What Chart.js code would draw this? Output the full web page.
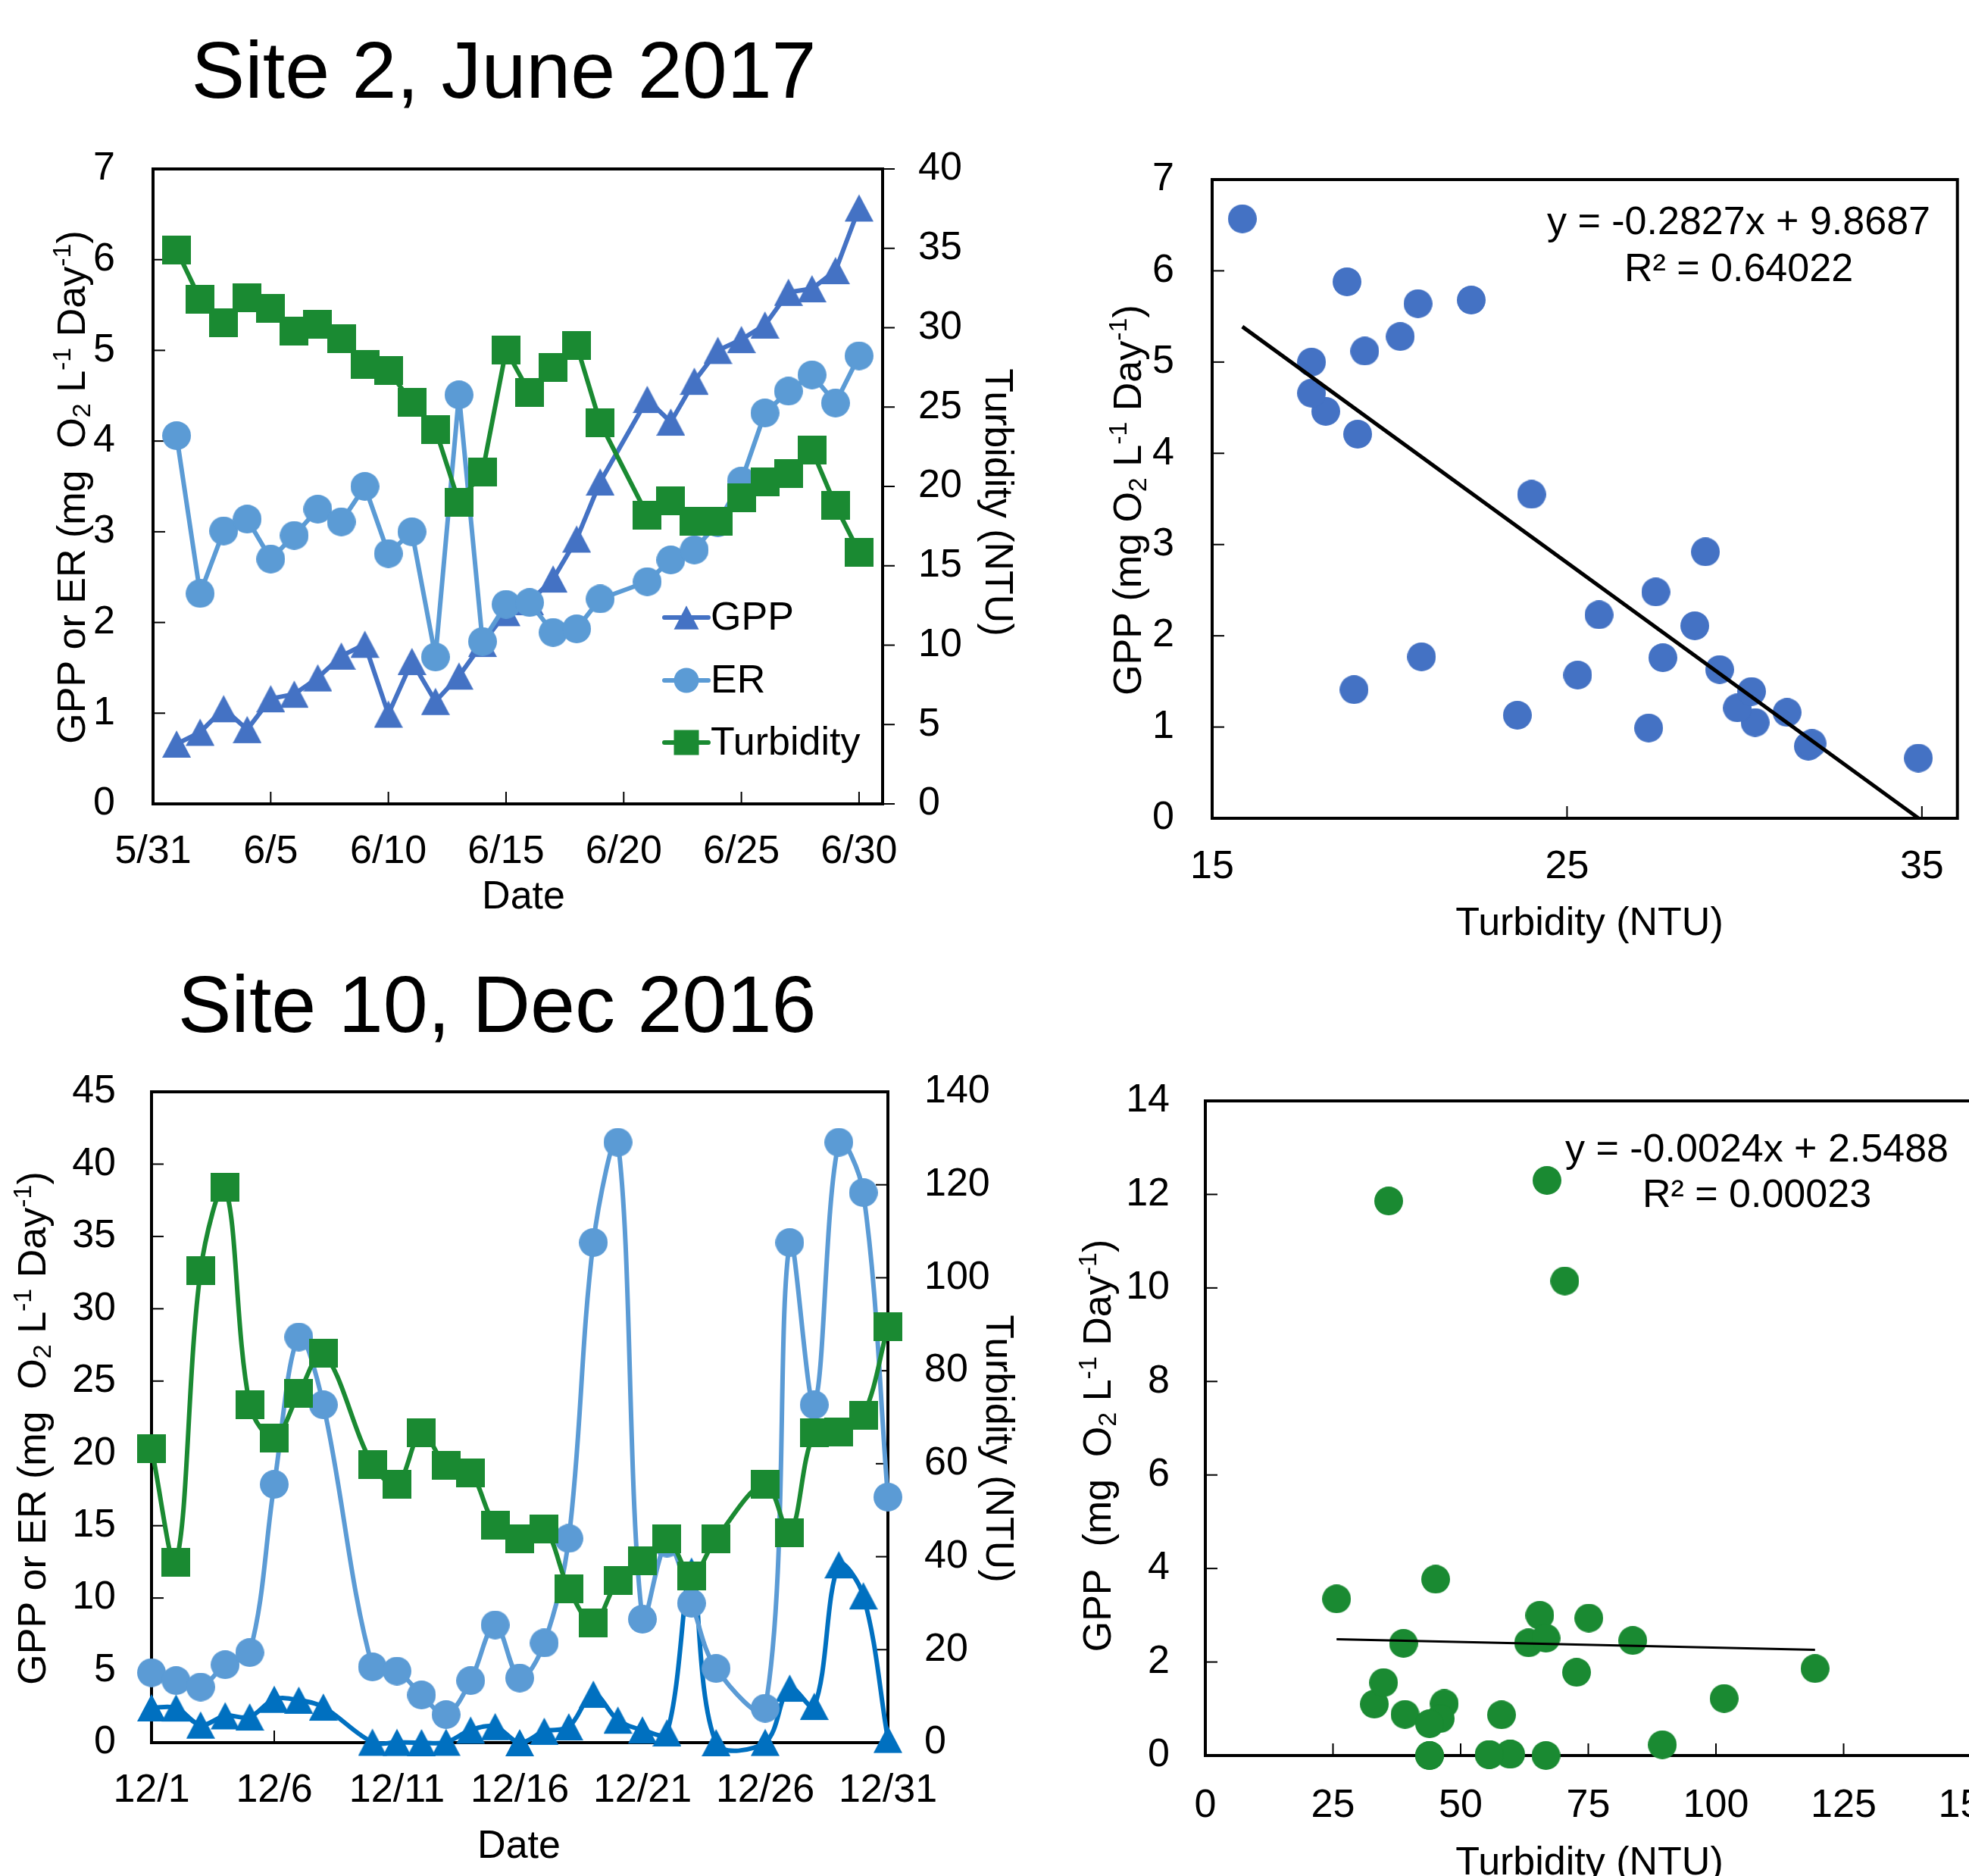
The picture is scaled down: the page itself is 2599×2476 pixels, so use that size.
<!DOCTYPE html>
<html>
<head>
<meta charset="utf-8">
<script src="https://cdn.jsdelivr.net/npm/chart.js@4.4.1/dist/chart.umd.min.js"></script>
<style>
html, body { margin: 0; padding: 0; background: #fff; overflow: hidden; width: 2599px; height: 2476px; position: relative; }
canvas { position: absolute; }
.site { position: absolute; font-family: 'Liberation Sans', Arial, sans-serif; font-size: 106px; line-height: 1; color: #000; white-space: nowrap; transform: translateX(-50%); }
</style>
</head>
<body>
<div class="site" style="left:665px; top:39px;">Site 2, June 2017</div>
<div class="site" style="left:656px; top:1272px;">Site 10, Dec 2016</div>
<script>
// Site 2, June 2017 (6/20 missing)
const dates2 = ['6/1','6/2','6/3','6/4','6/5','6/6','6/7','6/8','6/9','6/10','6/11','6/12','6/13','6/14','6/15',
  '6/16','6/17','6/18','6/19','6/21','6/22','6/23','6/24','6/25','6/26','6/27','6/28','6/29','6/30'];
const gpp2 = [0.66, 0.79, 1.05, 0.82, 1.16, 1.21, 1.39, 1.63, 1.76, 0.99, 1.57, 1.13, 1.41, 1.77, 2.11,
  2.23, 2.48, 2.92, 3.55, 4.46, 4.21, 4.66, 5.00, 5.12, 5.28, 5.64, 5.68, 5.88, 6.57];
const er2 = [4.06, 2.32, 3.01, 3.14, 2.70, 2.96, 3.25, 3.11, 3.50, 2.76, 3.00, 1.62, 4.51, 1.79, 2.20,
  2.22, 1.89, 1.93, 2.26, 2.45, 2.69, 2.80, 3.10, 3.56, 4.31, 4.55, 4.73, 4.42, 4.94];
const turb2 = [34.9, 31.8, 30.3, 31.9, 31.2, 29.8, 30.2, 29.3, 27.7, 27.3, 25.3, 23.6, 19.0, 20.9, 28.6,
  25.9, 27.5, 28.9, 24.0, 18.2, 19.1, 17.8, 17.8, 19.3, 20.3, 20.8, 22.3, 18.8, 15.85];
const xTicks2 = ['5/31','6/5','6/10','6/15','6/20','6/25','6/30'];
const trend2 = { slope: -0.2827, intercept: 9.8687, r2: '0.64022' };
const scatterTicks2 = ['15','25','35'];

// Site 10, Dec 2016 (12/9 and 12/25 missing)
const dates10 = ['12/1','12/2','12/3','12/4','12/5','12/6','12/7','12/8','12/10','12/11','12/12','12/13','12/14','12/15',
  '12/16','12/17','12/18','12/19','12/20','12/21','12/22','12/23','12/24','12/26','12/27','12/28','12/29','12/30','12/31'];
const gpp10 = [2.41, 2.40, 1.22, 1.86, 1.78, 3.00, 2.94, 2.46, 0.03, 0.02, 0.00, 0.03, 0.87, 1.11,
  0.00, 0.79, 1.10, 3.35, 1.56, 0.88, 0.68, 11.86, 0.00, 0.02, 3.77, 2.51, 12.30, 10.15, 0.23];
const er10 = [4.84, 4.29, 3.85, 5.39, 6.23, 17.86, 28.05, 23.36, 5.24, 4.95, 3.30, 1.94, 4.29, 8.14,
  4.47, 6.89, 14.12, 34.58, 41.51, 8.54, 13.8, 9.64, 5.13, 2.38, 34.58, 23.36, 41.51, 38.03, 16.98];
const turb10 = [63.3, 38.8, 101.6, 119.4, 72.7, 65.5, 75.1, 83.7, 59.8, 55.6, 66.7, 59.6, 58.0, 46.8,
  43.9, 46.0, 33.1, 25.7, 34.9, 39.1, 43.9, 35.9, 43.9, 55.6, 45.1, 66.7, 66.9, 70.4, 89.5];
const xTicks10 = ['12/1','12/6','12/11','12/16','12/21','12/26','12/31'];
const trend10 = { slope: -0.0024, intercept: 2.5488, r2: '0.00023' };
const scatterTicks10 = ['0','25','50','75','100','125','150'];

const FONT = "'Liberation Sans', Arial, sans-serif";
const GREEN = '#1a8a32';
Chart.defaults.font.family = FONT;
Chart.defaults.font.size = 52;
Chart.defaults.color = '#000';

function toDay(label, year, base) {
  const [m, d] = label.split('/').map(Number);
  const [bm, bd] = base.split('/').map(Number);
  return Math.round((Date.UTC(year, m - 1, d) - Date.UTC(year, bm - 1, bd)) / 864e5);
}

function drawShape(g, kind, x, y, s, color) {
  g.fillStyle = color;
  g.beginPath();
  if (kind === 'triangle') {
    const h = s * 0.95;
    g.moveTo(x, y - h / 2); g.lineTo(x + s / 2, y + h / 2); g.lineTo(x - s / 2, y + h / 2); g.closePath();
  } else if (kind === 'circle') {
    g.arc(x, y, s / 2, 0, Math.PI * 2);
  } else {
    g.rect(x - s / 2, y - s / 2, s, s);
  }
  g.fill();
}

function markerImage(kind, color, s) {
  const c = document.createElement('canvas');
  c.width = s; c.height = s;
  drawShape(c.getContext('2d'), kind, s / 2, s / 2, s, color);
  return c;
}

function richParts(str) {
  const parts = [];
  const re = /([_^])\{([^}]*)\}/g;
  let last = 0, m;
  while ((m = re.exec(str))) {
    if (m.index > last) parts.push({ t: str.slice(last, m.index), k: 0 });
    parts.push({ t: m[2], k: m[1] === '^' ? 1 : -1 });
    last = re.lastIndex;
  }
  if (last < str.length) parts.push({ t: str.slice(last), k: 0 });
  return parts;
}

function drawRich(ctx, str, x, y, rot, size) {
  const parts = richParts(str);
  const fontFor = k => (k ? Math.round(size * 0.65) : size) + 'px ' + FONT;
  let w = 0;
  parts.forEach(p => { ctx.font = fontFor(p.k); p.w = ctx.measureText(p.t).width; w += p.w; });
  ctx.save();
  ctx.translate(x, y);
  ctx.rotate(rot);
  ctx.fillStyle = '#000';
  ctx.textAlign = 'left';
  ctx.textBaseline = 'alphabetic';
  let cx = -w / 2;
  const base = size * 0.358;
  parts.forEach(p => {
    ctx.font = fontFor(p.k);
    const dy = p.k === 1 ? -size * 0.36 : (p.k === -1 ? size * 0.14 : 0);
    ctx.fillText(p.t, cx, base + dy);
    cx += p.w;
  });
  ctx.restore();
}

// frame, inner ticks, axis titles, notes and legend
function makeFrame(cfg) {
  return {
    id: 'frame',
    beforeDatasetsDraw(chart) {
      const { ctx, chartArea: a } = chart;
      ctx.save();
      ctx.strokeStyle = '#000';
      ctx.lineWidth = 2;
      Object.entries(cfg.ticks).forEach(([id, dir]) => {
        const s = chart.scales[id];
        const len = 16;
        s.ticks.forEach(t => {
          const p = s.getPixelForValue(t.value);
          ctx.beginPath();
          if (s.isHorizontal()) {
            ctx.moveTo(p, a.bottom); ctx.lineTo(p, a.bottom - len);
          } else if (s.position === 'left') {
            ctx.moveTo(a.left, p); ctx.lineTo(a.left + len, p);
          } else {
            ctx.moveTo(a.right, p); ctx.lineTo(a.right + (dir === 'out' ? len : -len), p);
          }
          ctx.stroke();
        });
      });
      ctx.lineWidth = 4;
      ctx.strokeRect(a.left, a.top, a.right - a.left, a.bottom - a.top);
      ctx.restore();
    },
    afterDatasetsDraw(chart) {
      const ctx = chart.ctx;
      const ox = cfg.off.left, oy = cfg.off.top;
      cfg.titles.forEach(t => drawRich(ctx, t.text, t.x - ox, t.y - oy, t.rot || 0, 52));
      (cfg.notes || []).forEach(t => drawRich(ctx, t.text, t.x - ox, t.y - oy, 0, 52));
      if (cfg.legend) {
        const L = cfg.legend;
        chart.data.datasets.forEach((ds, i) => {
          const y = L.ys[i] - oy;
          ctx.save();
          ctx.strokeStyle = ds.borderColor;
          ctx.lineWidth = 6;
          ctx.lineCap = 'round';
          ctx.beginPath(); ctx.moveTo(L.x0 - ox, y); ctx.lineTo(L.x1 - ox, y); ctx.stroke();
          drawShape(ctx, ds.marker, (L.x0 + L.x1) / 2 - ox, y, L.size, ds.borderColor);
          ctx.fillStyle = '#000';
          ctx.font = '52px ' + FONT;
          ctx.textAlign = 'left';
          ctx.textBaseline = 'middle';
          ctx.fillText(ds.label, L.tx - ox, y + 2);
          ctx.restore();
        });
      }
    }
  };
}

function makeCanvas(off) {
  const c = document.createElement('canvas');
  c.width = off.w; c.height = off.h;
  c.style.left = off.left + 'px'; c.style.top = off.top + 'px';
  c.style.width = off.w + 'px'; c.style.height = off.h + 'px';
  document.body.appendChild(c);
  return c;
}

function series(label, dates, values, dayOf, color, kind, axis, order, tension) {
  return {
    type: 'line', label, marker: kind, yAxisID: axis, order,
    data: dates.map((d, i) => ({ x: dayOf(d), y: values[i] })),
    borderColor: color, backgroundColor: color, borderWidth: 6,
    borderJoinStyle: 'round', tension, capBezierPoints: false,
    pointStyle: markerImage(kind, color, 38), pointRadius: 19, pointHoverRadius: 19,
    clip: false
  };
}

function yScale(pos, min, max, step, width, pad) {
  return {
    type: 'linear', position: pos, min, max,
    grid: { display: false, drawTicks: false }, border: { display: false },
    ticks: { stepSize: step, padding: pad },
    afterFit: s => { s.width = width; }
  };
}

function xScale(min, max, labels, toVal, height, pad) {
  return {
    type: 'linear', position: 'bottom', min, max,
    grid: { display: false, drawTicks: false }, border: { display: false },
    afterBuildTicks: s => { s.ticks = labels.map(l => ({ value: toVal(l) })); },
    ticks: { autoSkip: false, maxRotation: 0, padding: pad, callback: (v, i) => labels[i] },
    afterFit: s => { s.height = height; }
  };
}

function baseOptions(padding, scales) {
  return {
    responsive: false, devicePixelRatio: 1, animation: false, events: [],
    layout: { padding, autoPadding: false },
    plugins: { legend: { display: false }, tooltip: { enabled: false } },
    scales
  };
}

function trendData(t, xs) {
  const lo = Math.min(...xs), hi = Math.max(...xs);
  return [{ x: lo, y: t.slope * lo + t.intercept }, { x: hi, y: t.slope * hi + t.intercept }];
}

const eqText = t => 'y = ' + t.slope + 'x + ' + t.intercept;

// ---- Site 2 time series ----
const offA = { left: 0, top: 0, w: 1400, h: 1250 };
const day2 = d => toDay(d, 2017, '5/31');
new Chart(makeCanvas(offA), {
  type: 'line',
  data: { datasets: [
    series('GPP', dates2, gpp2, day2, '#4472C4', 'triangle', 'y', 3, 0),
    series('ER', dates2, er2, day2, '#5B9BD5', 'circle', 'y', 2, 0),
    series('Turbidity', dates2, turb2, day2, GREEN, 'square', 'y1', 1, 0)
  ] },
  options: baseOptions({ top: 223, left: 0, right: 0, bottom: 0 }, {
    x: xScale(0, 31, xTicks2, day2, 1250 - 1061, 32),
    y: yScale('left', 0, 7, 1, 202, 50),
    y1: yScale('right', 0, 40, 5, 1400 - 1165, 47)
  }),
  plugins: [makeFrame({
    off: offA,
    ticks: { x: 'in', y: 'in', y1: 'out' },
    titles: [
      { text: 'Date', x: 691, y: 1180 },
      { text: 'GPP or ER (mg  O_{2} L^{-1} Day^{-1})', x: 93, y: 643, rot: -Math.PI / 2 },
      { text: 'Turbidity (NTU)', x: 1320, y: 663, rot: Math.PI / 2 }
    ],
    legend: { x0: 877, x1: 935, tx: 938, ys: [815, 898, 980], size: 33 }
  })]
});

// ---- Site 2 scatter ----
const offB = { left: 1400, top: 0, w: 1199, h: 1300 };
new Chart(makeCanvas(offB), {
  type: 'line',
  data: { datasets: [
    { type: 'line', label: 'Linear', data: trendData(trend2, turb2), borderColor: '#000', borderWidth: 5,
      pointRadius: 0, order: 1, clip: false },
    { type: 'scatter', label: 'GPP', data: turb2.map((t, i) => ({ x: t, y: gpp2[i] })), showLine: false,
      pointStyle: markerImage('circle', '#4472C4', 38), pointRadius: 19, order: 2, clip: false }
  ] },
  options: baseOptions({ top: 237, left: 0, right: 5, bottom: 0 }, {
    x: xScale(15, 36, scatterTicks2, Number, 1300 - 1080, 33),
    y: yScale('left', 0, 7, 1, 200, 50)
  }),
  plugins: [makeFrame({
    off: offB,
    ticks: { x: 'in', y: 'in' },
    titles: [
      { text: 'Turbidity (NTU)', x: 2098, y: 1215 },
      { text: 'GPP (mg O_{2} L^{-1} Day^{-1})', x: 1487, y: 660, rot: -Math.PI / 2 }
    ],
    notes: [
      { text: eqText(trend2), x: 2295, y: 290 },
      { text: 'R² = ' + trend2.r2, x: 2295, y: 352 }
    ]
  })]
});

// ---- Site 10 time series ----
const offC = { left: 0, top: 1250, w: 1400, h: 1226 };
const day10 = d => toDay(d, 2016, '11/30');
new Chart(makeCanvas(offC), {
  type: 'line',
  data: { datasets: [
    series('GPP', dates10, gpp10, day10, '#0070C0', 'triangle', 'y', 3, 0.35),
    series('ER', dates10, er10, day10, '#5B9BD5', 'circle', 'y', 2, 0.35),
    series('Turbidity', dates10, turb10, day10, GREEN, 'square', 'y1', 1, 0.35)
  ] },
  options: baseOptions({ top: 191, left: 0, right: 0, bottom: 0 }, {
    x: xScale(1, 31, xTicks10, day10, 1226 - 1050, 32),
    y: yScale('left', 0, 45, 5, 200, 47),
    y1: yScale('right', 0, 140, 20, 1400 - 1172, 48)
  }),
  plugins: [makeFrame({
    off: offC,
    ticks: { x: 'in', y: 'in', y1: 'in' },
    titles: [
      { text: 'Date', x: 685, y: 2433 },
      { text: 'GPP or ER (mg  O_{2} L^{-1} Day^{-1})', x: 41, y: 1885, rot: -Math.PI / 2 },
      { text: 'Turbidity (NTU)', x: 1321, y: 1912, rot: Math.PI / 2 }
    ]
  })]
});

// ---- Site 10 scatter ----
const offD = { left: 1400, top: 1300, w: 1300, h: 1250 };
new Chart(makeCanvas(offD), {
  type: 'line',
  data: { datasets: [
    { type: 'line', label: 'Linear', data: trendData(trend10, turb10), borderColor: '#000', borderWidth: 3,
      pointRadius: 0, order: 1, clip: false },
    { type: 'scatter', label: 'GPP', data: turb10.map((t, i) => ({ x: t, y: gpp10[i] })), showLine: false,
      pointStyle: markerImage('circle', GREEN, 38), pointRadius: 19, order: 2, clip: false }
  ] },
  options: baseOptions({ top: 153, left: 0, right: 98, bottom: 0 }, {
    x: xScale(0, 150, scatterTicks10, Number, 1250 - 1017, 35),
    y: yScale('left', 0, 14, 2, 191, 47)
  }),
  plugins: [makeFrame({
    off: offD,
    ticks: { x: 'in', y: 'in' },
    titles: [
      { text: 'Turbidity (NTU)', x: 2098, y: 2455 },
      { text: 'GPP  (mg  O_{2} L^{-1} Day^{-1})', x: 1447, y: 1908, rot: -Math.PI / 2 }
    ],
    notes: [
      { text: eqText(trend10), x: 2319, y: 1514 },
      { text: 'R² = ' + trend10.r2, x: 2319, y: 1574 }
    ]
  })]
});
</script>
</body>
</html>
